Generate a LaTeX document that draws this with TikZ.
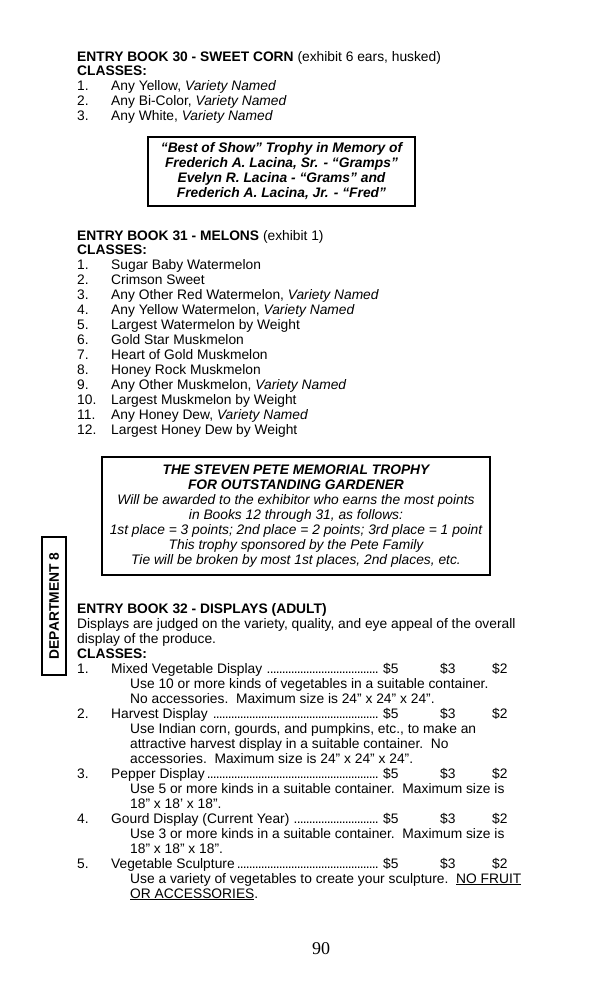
\documentclass[tikz,border=0pt]{standalone}
\usepackage{fontspec}
\setmainfont{Liberation Sans}
\newfontfamily\pagenumfont{Liberation Serif}
\newcommand{\leaderdots}{\leaders\hbox to 3pt{\hss.\hss}\hfill}
\newcommand{\prizename}[1]{\hbox to 269pt{#1\leaderdots}}
\newcommand{\inch}{\symbol{34}}
\newcommand{\foot}{\symbol{39}}

\begin{document}
\begin{tikzpicture}[x=1pt, y=-1pt,
  every node/.style={inner sep=0pt, font=\fontsize{13.8}{15}\selectfont},
  txt/.style={anchor=base west},
  boxed/.style={draw, line width=1.6pt, align=center}]
\fill [white] (0,0) rectangle (600,989);
\useasboundingbox (0,0) rectangle (600,989);

\node [txt] (book30) at (77,61) {\textbf{ENTRY BOOK 30 - SWEET CORN} (exhibit 6 ears, husked)};
\node [txt] (classes30) at (77,75) {\textbf{CLASSES:}};
\foreach \t [count=\i] in {{Any Yellow, \textit{Variety Named}}, {Any Bi-Color, \textit{Variety Named}}, {Any White, \textit{Variety Named}}} {
  \node [txt] (num30-\i) at (77,75+15*\i) {\i.};
  \node [txt] (cls30-\i) at (111,75+15*\i) {\t};
}
\node [boxed, minimum width=267pt, minimum height=69pt, font=\fontsize{13.8}{15}\selectfont\bfseries\itshape] (lacina) at (281.5,171.5) {“Best of Show” Trophy in Memory of\\Frederich A. Lacina, Sr. - “Gramps”\\Evelyn R. Lacina - “Grams” and\\Frederich A. Lacina, Jr. - “Fred”};

\node [txt] (book31) at (77,240) {\textbf{ENTRY BOOK 31 - MELONS} (exhibit 1)};
\node [txt] (classes31) at (77,254) {\textbf{CLASSES:}};
\foreach \t [count=\i] in {Sugar Baby Watermelon, Crimson Sweet, {Any Other Red Watermelon, \textit{Variety Named}}, {Any Yellow Watermelon, \textit{Variety Named}}, Largest Watermelon by Weight, Gold Star Muskmelon, Heart of Gold Muskmelon, Honey Rock Muskmelon, {Any Other Muskmelon, \textit{Variety Named}}, Largest Muskmelon by Weight, {Any Honey Dew, \textit{Variety Named}}, Largest Honey Dew by Weight} {
  \node [txt] (num31-\i) at (77,254+15*\i) {\i.};
  \node [txt] (cls31-\i) at (111,254+15*\i) {\t};
}

\node [boxed, minimum width=388pt, minimum height=118pt, font=\fontsize{13.8}{15}\selectfont\itshape] (pete) at (296,516) {\textbf{THE STEVEN PETE MEMORIAL TROPHY}\\\textbf{FOR OUTSTANDING GARDENER}\\Will be awarded to the exhibitor who earns the most points\\in Books 12 through 31, as follows:\\1st place = 3 points; 2nd place = 2 points; 3rd place = 1 point\\This trophy sponsored by the Pete Family\\Tie will be broken by most 1st places, 2nd places, etc.};

\node [boxed, rotate=90, minimum width=138pt, minimum height=24pt, font=\fontsize{13.8}{15}\selectfont\bfseries] (dept) at (54,606) {DEPARTMENT 8};

\node [txt] (book32) at (77,613) {\textbf{ENTRY BOOK 32 - DISPLAYS (ADULT)}};
\node [txt] (desc32a) at (77,628) {Displays are judged on the variety, quality, and eye appeal of the overall};
\node [txt] (desc32b) at (77,643) {display of the produce.};
\node [txt] (classes32) at (77,658) {\textbf{CLASSES:}};

\node [txt] (num32-1) at (77,673) {1.};
\node [txt] (cls32-1) at (111,673) {\prizename{Mixed Vegetable Display }};
\node [txt] (note32-1a) at (130,688) {Use 10 or more kinds of vegetables in a suitable container.};
\node [txt] (note32-1b) at (130,703) {No accessories.\ \ Maximum size is 24\inch{} x 24\inch{} x 24\inch.};

\node [txt] (num32-2) at (77,718) {2.};
\node [txt] (cls32-2) at (111,718) {\prizename{Harvest Display }};
\node [txt] (note32-2a) at (130,733) {Use Indian corn, gourds, and pumpkins, etc., to make an};
\node [txt] (note32-2b) at (130,748) {attractive harvest display in a suitable container.\ \ No};
\node [txt] (note32-2c) at (130,763) {accessories.\ \ Maximum size is 24\inch{} x 24\inch{} x 24\inch.};

\node [txt] (num32-3) at (77,778) {3.};
\node [txt] (cls32-3) at (111,778) {\prizename{Pepper Display}};
\node [txt] (note32-3a) at (130,793) {Use 5 or more kinds in a suitable container.\ \ Maximum size is};
\node [txt] (note32-3b) at (130,808) {18\inch{} x 18\foot{} x 18\inch.};

\node [txt] (num32-4) at (77,823) {4.};
\node [txt] (cls32-4) at (111,823) {\prizename{Gourd Display (Current Year) }};
\node [txt] (note32-4a) at (130,838) {Use 3 or more kinds in a suitable container.\ \ Maximum size is};
\node [txt] (note32-4b) at (130,853) {18\inch{} x 18\inch{} x 18\inch.};

\node [txt] (num32-5) at (77,868) {5.};
\node [txt] (cls32-5) at (111,868) {\prizename{Vegetable Sculpture}};
\node [txt] (note32-5a) at (130,883) {Use a variety of vegetables to create your sculpture.\ \ \underline{NO FRUIT}};
\node [txt] (note32-5b) at (130,898) {\underline{OR ACCESSORIES}.};

\foreach \r [count=\i] in {673,718,778,823,868} {
  \node [txt] (first-\i) at (383,\r) {\$5};
  \node [txt] (second-\i) at (440,\r) {\$3};
  \node [txt] (third-\i) at (492,\r) {\$2};
}

\node [anchor=base, font=\fontsize{18}{20}\selectfont\pagenumfont] (pagenum) at (321,954) {90};
\end{tikzpicture}
\end{document}
